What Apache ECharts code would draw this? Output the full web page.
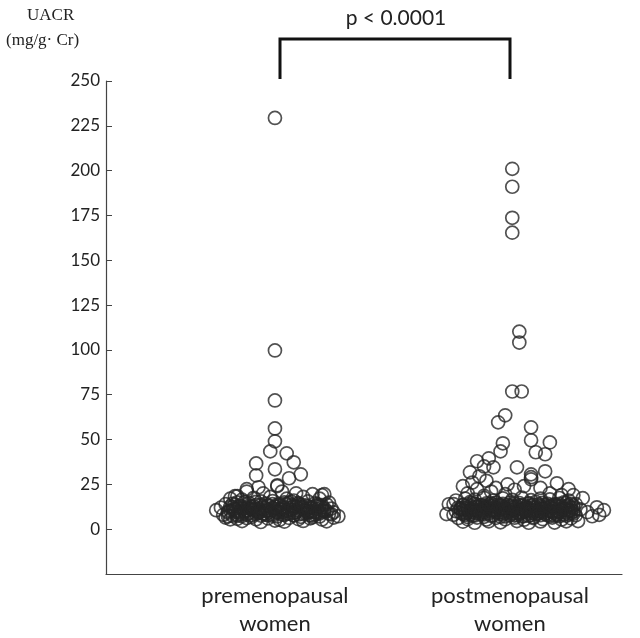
<!DOCTYPE html>
<html>
<head>
<meta charset="utf-8">
<script src="https://cdn.jsdelivr.net/npm/echarts@6/dist/echarts.min.js"></script>
<style>
    html, body { margin: 0; padding: 0; background: #fff; }
    #chart { width: 640px; height: 638px; }
</style>
</head>
<body>
<div id="chart"></div>
<script>
    // group labels and y ticks
    var groupNames = ['premenopausal\nwomen', 'postmenopausal\nwomen'];
    var yMin = -25, yMax = 250, yStep = 25;
    var pText = 'p < 0.0001';

    // [horizontal jitter (1/100 of group spacing), UACR mg/g·Cr]
    var prePoints = [
        [0, 229.4], [0, 99.7], [0, 71.8], [0, 56.2], [0, 49], [-2, 43.4], [5, 42.3],
        [8, 37.3], [-8, 36.7], [-8, 30], [0, 33.4], [11, 30.6], [6, 28.4], [1, 24.5],
        [-12, 22.3], [-7, 23.4], [1, 24], [20, 19], [-16, 18.4],
        [-12, 21], [-5, 20], [3, 21], [9, 20], [16, 19.5], [21, 19.5], [-17, 18.4],
        [-19, 17], [-9, 17.5], [-2, 18], [5, 17], [12, 18], [19, 17], [-14, 16.5], [8, 16],
        [-21, 14], [-16, 15], [-11, 14.5], [-6, 15.5], [-1, 14], [4, 15], [10, 14.5],
        [14, 15.5], [18, 14], [23, 14.8], [-8, 13.5], [2, 13.2],
        [-23, 12], [-18, 12.5], [-13, 11.5], [-9, 12.8], [-4, 11.8], [0, 12.5], [6, 11.5],
        [11, 12.6], [15, 11.8], [20, 12.3], [24, 11.5], [-15, 13], [7, 13.4],
        [-25, 10.6], [-20, 10], [-16, 9.5], [-12, 10.4], [-7, 9.8], [-3, 10.6], [1, 9.5],
        [5, 10.2], [9, 9.6], [13, 10.5], [17, 9.8], [21, 10.3], [25, 9.4], [-10, 11], [3, 11],
        [-22, 8], [-18, 7.5], [-14, 8.5], [-10, 7.8], [-5, 8.6], [-1, 7.4], [3, 8.2],
        [8, 7.6], [12, 8.4], [16, 7.5], [19, 8.7], [24, 8.3], [27, 7.2], [-7, 9], [14, 9.2],
        [-21, 6.5], [-16, 5.8], [-12, 6.2], [-8, 5.5], [-3, 6], [2, 5.2], [6, 6.3],
        [10, 5.6], [15, 6], [20, 5.4], [25, 6.5], [-19, 5.5], [0, 4.8],
        [-14, 4.5], [-6, 4], [4, 4.2], [12, 4.6], [22, 4.4]
    ];

    // dense core of the premenopausal group
    var preCore = [
        [-20, 9.2], [-17, 11.4], [-14, 7.3], [-11, 13.1], [-8, 8.4], [-5, 12.2], [-2, 9.7], [1, 13.6],
        [4, 7.9], [7, 10.8], [10, 14.1], [13, 8.8], [16, 11.9], [19, 7.1], [22, 10.1],
        [-19, 12.6], [-16, 8.1], [-13, 10.2], [-10, 6.8], [-7, 11.6], [-4, 14.3], [-1, 8.3], [2, 10.9],
        [5, 13.8], [8, 9.1], [11, 6.9], [14, 12.7], [17, 9.3], [20, 13.4], [23, 8.6],
        [-18, 14.2], [-15, 9.9], [-12, 12.1], [-9, 10.6], [-6, 7.6], [-3, 13.2], [0, 11.1], [3, 9.4],
        [6, 14.6], [9, 12.4], [12, 10.3], [15, 7.8], [18, 11.2], [21, 9.8],
        [-20, 7.2], [-17, 13.7], [-14, 11.8], [-11, 9.1], [-8, 15.2], [-5, 8.9], [-2, 12.8], [1, 7.1],
        [4, 11.7], [7, 15.4], [10, 8.2], [13, 13.3], [16, 6.6], [19, 12.9], [22, 13.8],
        [-19, 10.4], [-13, 15.1], [-7, 9.4], [-1, 15.6], [5, 8.7], [11, 11.9], [17, 14.4],
        [-4, 10.1], [8, 12.9], [14, 9.9],
        [-18, 10.8], [-15, 12.9], [-12, 8.1], [-9, 11.3], [-6, 13.6], [-3, 7.7], [0, 10.2], [3, 12.3],
        [6, 8.6], [9, 10.6], [12, 12.1], [15, 9.6], [18, 13.1], [21, 11.6],
        [-16, 7.4], [-13, 9.4], [-10, 12.4], [-7, 10.7], [-4, 8.1], [-1, 11.9], [2, 13.9], [5, 10.4],
        [8, 7.8], [11, 13.6], [14, 11.2], [17, 8.2], [20, 10.7],
        [-17, 9.8], [-11, 11.9], [-5, 10.5], [1, 9.1], [7, 12.2], [13, 10.9], [19, 9.4]
    ];

    var postPoints = [
        [1, 201], [1, 191], [1, 173.7], [1, 165.4], [4, 110.2], [4, 104.1], [1, 76.8], [5, 76.8],
        [-5, 59.6], [-2, 63.5], [9, 56.8], [9, 49.6], [17, 48.4], [11, 42.9], [15, 41.8],
        [-3, 47.9], [-4, 43.4], [-14, 37.9], [-9, 39.5], [-11, 35], [-17, 31.7], [-13, 29.5],
        [-7, 34.5], [3, 34.5], [15, 32.3], [9, 30.6], [9, 29], [9, 27.8], [20, 25.6],
        [25, 22.3], [-1, 25], [-14, 22.3], [-26, 13.9], [-27, 8.4], [40, 10.6], [31, 17.3],
        [37, 12.2], [35, 7.2], [29, 4.5], [28, 14],
        [-20, 24], [-16, 26], [-10, 27], [-6, 23], [-18, 20], [-8, 21], [2, 22], [6, 24],
        [13, 23], [17, 20], [22, 19], [-2, 19.5], [-11, 18.6], [27, 19],
        [-23, 16], [-19, 17], [-15, 16.5], [-11, 17.5], [-7, 16], [-3, 17.2], [1, 16.4],
        [5, 17.6], [9, 16.2], [13, 17], [17, 16.6], [21, 17.4], [25, 16],
        [-24, 14], [-20, 13.5], [-16, 14.6], [-12, 13.2], [-8, 14.4], [-4, 13.6], [0, 14.8],
        [4, 13.4], [8, 14.5], [12, 13.3], [16, 14.2], [20, 13.6], [24, 14.6], [27, 13.2],
        [-22, 12], [-18, 11.5], [-14, 12.4], [-10, 11.3], [-6, 12.2], [-2, 11.6], [2, 12.5],
        [6, 11.4], [10, 12.3], [14, 11.5], [18, 12.4], [22, 11.2], [26, 12],
        [-23, 10], [-19, 9.6], [-15, 10.5], [-11, 9.4], [-7, 10.3], [-3, 9.5], [1, 10.6],
        [5, 9.3], [9, 10.2], [13, 9.7], [17, 10.4], [21, 9.5], [25, 10.3], [-21, 11], [11, 11],
        [-24, 8], [-20, 8.5], [-16, 7.6], [-12, 8.4], [-8, 7.4], [-4, 8.6], [0, 7.8],
        [4, 8.4], [8, 7.5], [12, 8.6], [16, 7.7], [20, 8.3], [24, 7.5], [27, 8.6],
        [-22, 6.2], [-18, 5.6], [-14, 6.5], [-10, 5.4], [-6, 6.3], [-2, 5.5], [2, 6.4],
        [6, 5.3], [10, 6.2], [14, 5.6], [18, 6.5], [22, 5.4], [26, 6],
        [-20, 4.2], [-15, 3.6], [-9, 4.4], [-4, 3.8], [3, 4.5], [8, 3.6], [13, 4.3],
        [19, 3.7], [24, 4.4], [33, 9.5], [38, 8], [30, 11]
    ];

    // dense core of the postmenopausal group
    var postCore = [
        [-21, 9.1], [-18, 12.3], [-15, 7.6], [-12, 13.4], [-9, 8.7], [-6, 11.1], [-3, 14.2], [0, 9.6],
        [3, 12.6], [6, 7.3], [9, 10.9], [12, 13.9], [15, 8.4], [18, 11.6], [21, 14.1], [24, 9.2], [27, 11.8],
        [-20, 13.6], [-17, 8.3], [-14, 10.7], [-11, 6.9], [-8, 12.9], [-5, 9.2], [-2, 7.1], [1, 11.9],
        [4, 14.6], [7, 9.9], [10, 6.7], [13, 11.3], [16, 13.1], [19, 7.4], [22, 10.8], [25, 13.3], [28, 7.7],
        [-21, 11.5], [-18, 6.8], [-15, 14.1], [-12, 9.8], [-9, 11.7], [-6, 14.8], [-3, 8.2], [0, 12.7],
        [3, 9.1], [6, 13.2], [9, 7.9], [12, 10.1], [15, 12.2], [18, 9.6], [21, 7.2], [24, 12.5], [27, 9.9],
        [-19, 7.9], [-16, 12.1], [-13, 8.6], [-10, 14.4], [-7, 7.7], [-4, 10.9], [-1, 13.5], [2, 7.6],
        [5, 11.2], [8, 14.1], [11, 8.4], [14, 14.7], [17, 10.3], [20, 12.9], [23, 8.1], [26, 14.2],
        [-20, 10.6], [-17, 15.1], [-14, 12.6], [-11, 10.2], [-8, 9.8], [-5, 13.8], [-2, 10.9], [1, 8.8],
        [4, 10.4], [7, 12.3], [10, 13.6], [13, 7.8], [16, 9.2], [19, 13.9], [22, 11.4], [25, 8.2],
        [-16, 9.7], [-10, 11.8], [-4, 6.9], [2, 14.3], [8, 11.6], [14, 11.1], [20, 10.1], [26, 10.7],
        [-13, 13.3], [-7, 13.4], [5, 7.1], [11, 15.2], [17, 7.3], [23, 14.9],
        [-20, 12.1], [-17, 10.1], [-14, 13.7], [-11, 8.2], [-8, 10.9], [-5, 12.6], [-2, 8.9], [1, 13.1],
        [4, 9.3], [7, 11.1], [10, 8.9], [13, 12.8], [16, 10.8], [19, 9.1], [22, 12.9], [25, 10.6],
        [-19, 8.9], [-16, 11.2], [-13, 10.4], [-10, 12.9], [-7, 11.2], [-4, 13.1], [-1, 9.9], [2, 10.8],
        [5, 13.4], [8, 8.9], [11, 12.1], [14, 9.4], [17, 12.6], [20, 7.8], [23, 11.8], [26, 8.9],
        [-18, 13.9], [-12, 11.6], [-6, 9.5], [0, 11.1], [6, 10.6], [12, 8.9], [18, 13.3], [24, 11.1],
        [-15, 9.1], [-9, 13.8], [-3, 11.9], [3, 7.9], [9, 13.1], [15, 13.6], [21, 9.1]
    ];

    function toXY(points, center) {
        return points.map(function (p) { return [center + p[0] / 100, p[1]]; });
    }

    var circleStyle = {
        color: 'rgba(0,0,0,0)',
        borderColor: '#262626',
        borderWidth: 1.7
    };

    var myChart = echarts.init(document.getElementById('chart'));

    var option = {
        animation: false,
        grid: { left: 106, right: 18, top: 81, bottom: 61 },
        xAxis: {
            type: 'value',
            min: 0.281,
            max: 2.477,
            splitLine: { show: false },
            axisLine: { show: true, onZero: false, lineStyle: { color: '#444', width: 1.2 } },
            axisTick: { show: false },
            axisLabel: {
                customValues: [1, 2],
                formatter: function (v) { return groupNames[Math.round(v) - 1]; },
                fontFamily: 'Lato',
                fontSize: 22,
                color: '#222',
                lineHeight: 28,
                margin: 8
            }
        },
        yAxis: {
            type: 'value',
            min: yMin,
            max: yMax,
            interval: yStep,
            splitLine: { show: false },
            axisLine: { show: true, lineStyle: { color: '#444', width: 1.2 } },
            axisTick: { show: true, inside: true, length: 6, lineStyle: { color: '#444' } },
            axisLabel: {
                formatter: function (v) { return v < 0 ? '' : String(v); },
                fontFamily: 'Lato',
                fontSize: 17,
                color: '#222',
                margin: 6
            }
        },
        series: [
            {
                name: 'premenopausal',
                type: 'scatter',
                symbol: 'circle',
                symbolSize: 13,
                itemStyle: circleStyle,
                data: toXY(prePoints.concat(preCore), 1)
            },
            {
                name: 'postmenopausal',
                type: 'scatter',
                symbol: 'circle',
                symbolSize: 13,
                itemStyle: circleStyle,
                data: toXY(postPoints.concat(postCore), 2)
            }
        ],
        graphic: [
            {
                type: 'text',
                left: 27, top: 7,
                style: { text: 'UACR', font: '17px "Liberation Serif"', fill: '#222' }
            },
            {
                type: 'text',
                left: 6, top: 32,
                style: { text: '(mg/g· Cr)', font: '17px "Liberation Serif"', fill: '#222' }
            },
            {
                type: 'text',
                x: 396, y: 18,
                style: { text: pText, font: '21px Lato', fill: '#222', align: 'center', verticalAlign: 'middle' }
            },
            {
                type: 'polyline',
                shape: { points: [[280, 79], [280, 39], [510, 39], [510, 79]] },
                style: { stroke: '#111', lineWidth: 3, fill: null }
            }
        ]
    };

    myChart.setOption(option);
</script>
</body>
</html>
